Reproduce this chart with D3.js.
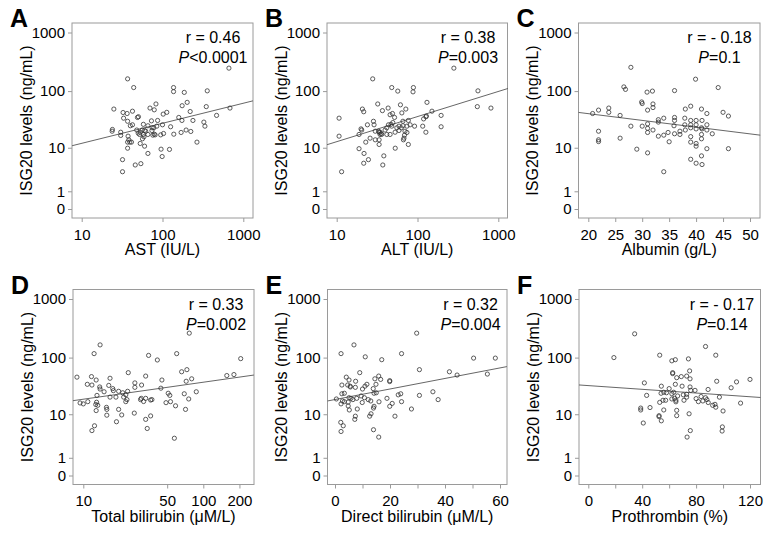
<!DOCTYPE html>
<html><head><meta charset="utf-8">
<script src="https://cdn.jsdelivr.net/npm/d3@7"></script>
<style>body{margin:0;background:#fff}</style>
</head><body><svg id="c" width="770" height="539"></svg>
<script>
const letters = ["A","B","C","D","E","F"];
const xTitles = ["AST (IU/L)","ALT (IU/L)","Albumin (g/L)","Total bilirubin (μM/L)","Direct bilirubin (μM/L)","Prothrombin (%)"];
const rLabels = ["r = 0.46","r = 0.38","r = - 0.18","r = 0.33","r = 0.32","r = - 0.17"];
const pLabels = ["<0.0001","=0.003","=0.1","=0.002","=0.004","=0.14"];
const yTitle = "ISG20 levels (ng/mL)";
const yTickValues = [0,1,10,100,1000];
const xTickValues = [[10,100,1000],[10,100,1000],[20,25,30,35,40,45,50],[10,50,100,200],[0,10,20,30,40,50,60],[0,20,40,60,80,100,120]];
const xTickLabels = [[10,100,1000],[10,100,1000],[20,25,30,35,40,45,50],[10,50,100,200],[0,20,40,60],[0,40,80,120]];

const dataA = [[37,162],[44,115],[664,247],[137,115],[137,98],[186,95],[358,101],[202,64],[175,56],[348,54],[684,51],[83,60],[25,49],[32.5,42.7],[36.5,41],[42.5,45],[70,51],[79,47.5],[113,43],[102,40],[220,44.4],[467,38],[49,35],[50.4,36],[33,34],[37,30],[40,25],[42.5,26],[73,30.5],[87,31],[58,26.5],[66,25],[74.5,23],[24,21.5],[30.4,19.2],[23.8,20],[30.4,16.8],[48,21],[53,19.2],[56,21],[60,20.6],[62,20],[74,20.6],[78,23],[85,24.6],[100,26],[126,24],[159,35],[174,31],[238,31],[325,29],[335,24.6],[196,21],[224,19.8],[170,19],[138,17.7],[103,18.2],[79,17.7],[76,17],[81,17.2],[95,17.2],[58,17.5],[50,18.5],[52,17.5],[66,17.5],[59,15.9],[56.5,14.6],[37.5,16.3],[38.3,14],[37,12.7],[39.4,12.7],[41.3,12.7],[37,9.8],[53,12],[60,10.7],[66,7.8],[96,9.4],[99,6.8],[122,9.3],[267,12.7],[32,5.9],[46,4.6],[54,4.9],[32,3.3]];
const dataB = [[27.9,162],[48,115],[282,247],[89,115],[88,97],[57,100],[560,101],[131,64],[550,54],[811,51],[10.7,34],[20.8,49],[21.6,44],[32.2,60],[43.3,51],[36.8,46],[61.5,58],[71.7,49],[64,42],[45.8,39],[49,41],[52,35],[77,31],[66,30],[28.5,30],[29,26],[24,26],[20,22],[20.4,21],[18.9,17.5],[10.7,16.3],[30,20],[33.5,19.2],[34.4,17.5],[35.5,18.2],[151,45],[129,37],[196,38],[127,36],[119,33],[92,24.6],[116,24.6],[127,19.2],[196,24],[74,24.6],[81,26],[59,24.6],[66,25],[70,20],[74,19],[69,17],[68,15],[67,14],[77,11.5],[53,9.8],[33.5,11.5],[22.9,12.7],[18.9,9.6],[21.8,7.8],[24.7,5.9],[21.6,5],[38.3,7],[37.2,4.6],[11.5,3.3],[25.9,15],[33.5,14],[30,14],[41.7,17.5],[45.8,17.5],[48,24.6],[52.8,19.2],[55.5,23],[59,20.6],[63,23],[33,20],[34.4,19.2],[36,17.5],[39.7,21],[41.7,23],[43.7,26],[47,26.5],[49.5,28.5]];
const dataC = [[27.9,255],[26.6,118],[26.9,107],[39.9,160],[44.1,115],[30.9,96],[31.9,100],[36,102],[29.9,65],[30,61],[32,60],[32,52],[31,47],[39,55],[38,49],[41,49],[45,43],[42,41],[46,37],[20.8,41],[21.9,47],[23.8,51],[23.8,43],[25.9,38],[34,34],[33,32],[33,29],[36,35],[36,31],[37.9,34],[39,31],[40,31],[41.1,31],[42,26],[37.9,26],[39,26],[40,26],[35.9,25],[39,23],[41,23],[41.1,22],[40,22],[42,21],[38,21],[37,20],[37,17.5],[36,18],[34.8,19],[34,17],[33,16.3],[43,18],[41,17.5],[41,14.6],[39,16],[39,12.7],[40,12],[40,10.7],[42,9.6],[41,7],[39,6],[40,5],[41.1,4.7],[34,3.3],[35,12.9],[31,8],[29,9.4],[21.9,20],[21.9,14],[21.9,13],[25.9,15],[27.9,24.6],[30,24.6],[31,27],[31,22.5],[31,19],[32,21],[46,9.6]];
const dataD = [[13.8,165],[12.3,117],[76.4,262],[35,109],[41.4,91],[60,117],[205,96],[8.85,46],[11.7,47],[12.8,41],[11.8,33.5],[13.7,31],[13.8,28.5],[16.7,44],[16.3,33],[23.7,55],[33.1,48],[26.9,36.5],[26.9,30.5],[30.6,33.5],[45.2,41],[44.3,29.5],[66,57],[73,62],[80,43],[157,49],[180,51],[72,39],[10.8,34.5],[13,22],[14.9,25.5],[17.6,29],[17.8,26.7],[19.7,26],[21.3,24.5],[22.6,22.5],[23.4,26],[21.7,20.5],[16.7,20.5],[18.7,20.5],[22.6,17],[23.1,18.5],[10.9,17],[9.4,16.1],[10,15.5],[12.9,16.6],[12.7,15.1],[13.2,14.6],[15.6,13.4],[15.7,12.3],[12.8,11.7],[15.7,9.6],[19.7,12.3],[20.9,9.7],[18.9,7.2],[26.6,10.5],[30,18.5],[31.8,17.1],[30.4,19.5],[33.1,19.5],[36.4,18.2],[37.3,18.5],[33.1,8],[36.4,9.3],[34.1,5.3],[48.9,16.3],[51,24],[52.6,22],[53.3,17],[58.7,14.3],[69.4,23.5],[75.6,19],[71.1,12.3],[57.4,3.3],[87.4,25.5],[11.8,4.8],[12.4,6]];
const dataE = [[6.9,165],[2.2,117],[11,103],[17,92],[24.2,117],[29.7,262],[50.4,98],[58.3,98],[30.7,62],[41.6,57],[44.4,50],[55.4,52],[9,55],[4.1,46],[5.1,41],[7.5,39],[15.9,48],[16.6,42],[14.5,43],[19.9,40],[19.9,38.5],[2.5,33.5],[4.6,33.5],[5.5,32],[5.6,31],[7.4,30.5],[10.9,32],[11.6,34.5],[13.9,29],[14.9,34.5],[15,24.5],[14.2,24],[23.9,23.5],[23,22.5],[30.7,22],[35.6,25.5],[37.5,18.5],[24.2,17],[18.9,19.5],[20.8,15.8],[19.9,14],[16,16.9],[10.7,20],[9.9,16.4],[12.1,18.5],[13,17.5],[14.2,14],[14,13],[13.1,10.2],[12.6,9.2],[8.1,12.5],[7.4,9.2],[7.2,8],[3.4,24],[2.5,23.5],[2.7,17.5],[2.2,15.5],[3.4,17],[5.1,20],[5.8,19.5],[6.5,18.5],[7.9,19.5],[4.8,16.7],[4.8,14.2],[5.2,12],[0.5,19],[2.1,7],[3,6],[2.2,4.6],[14,5],[15.9,3.5],[21.8,9.2],[27.8,12.5],[9.5,21.5],[10,28.5]];
const dataF = [[34.4,255],[19,100],[53,110],[62,88],[64.6,92],[74.3,95],[87,155],[94.6,110],[62.6,55],[62.6,53],[75.2,59],[73,48],[75.5,43],[69,47],[65.6,45],[41.6,36.5],[54.2,32],[64.6,34.5],[69.6,32],[95.3,39],[110,38],[120,42],[106,30],[88.9,28],[75.5,31],[79.2,27],[76,27],[54,24],[43.3,22],[60,29],[63.4,25],[62,23.5],[56,25],[73,23],[73,20.5],[66.3,21.5],[62,19],[65,18],[55.4,18],[53,16.5],[57.4,18],[64,19.5],[65,16.9],[71,18],[80,19.3],[81.7,17],[85,17.5],[88,18.5],[87,20],[83.7,21],[89,16.4],[92.3,14.6],[94,15.2],[94.6,13.5],[97.3,20.5],[113,16],[100,11.5],[38.9,13],[38.9,12],[45.8,13.3],[56,12],[65.6,11.8],[52.5,9.4],[52.5,9],[54.2,7.5],[40.8,6.8],[65.6,9.4],[74.8,10.2],[75.7,4.8],[73.3,3.5],[99.5,5.7],[99.3,4.7],[58,24.5],[70.5,22.5]];
const allData = [dataA,dataB,dataC,dataD,dataE,dataF];

const fitA = [[7.6,10.9],[1318,68]];
const fitB = [[7.6,11.4],[1318,111]];
const fitC = [[18.2,42.8],[51.9,17]];
const fitD = [[8.2,17.7],[264,50]];
const fitE = [[-2.7,17.5],[62.5,70]];
const fitF = [[-6.9,33.6],[127.8,20.2]];
const fits = [fitA,fitB,fitC,fitD,fitE,fitF];

// layout
const rows = [{top:23,bottom:218,y0:209,y1k:32.5},{top:289.5,bottom:484.5,y0:475.5,y1k:299}];
const frames = [
  {x0:72,x1:253,row:0,log:true,dom:[10,1000],rng:[81.7,243.3]},
  {x0:327,x1:507.5,row:0,log:true,dom:[10,1000],rng:[336.7,498.3]},
  {x0:578.5,x1:760,row:0,log:false,dom:[20,50],rng:[588.3,750]},
  {x0:73,x1:254,row:1,log:true,dom:[10,100],rng:[83.3,203.3]},
  {x0:327.5,x1:507,row:1,log:false,dom:[0,60],rng:[335,500]},
  {x0:579,x1:760.5,row:1,log:false,dom:[0,120],rng:[588.3,750]}
];

const svg = d3.select("#c");
const FONT = "Liberation Sans, Arial, Helvetica, sans-serif";
const gray = "#9a9a9a";

frames.forEach((f,i)=>{
  const r = rows[f.row];
  const x = (f.log ? d3.scaleLog() : d3.scaleLinear()).domain(f.dom).range(f.rng);
  const y = d3.scaleSymlog().constant(1).domain([0,1000]).range([r.y0, r.y1k]);
  const g = svg.append("g");

  g.append("rect").attr("x",f.x0).attr("y",r.top)
    .attr("width",f.x1-f.x0).attr("height",r.bottom-r.top)
    .attr("fill","none").attr("stroke",gray).attr("stroke-width",1);

  const ya = g.append("g").attr("transform",`translate(${f.x0},0)`)
    .call(d3.axisLeft(y).tickValues(yTickValues).tickFormat(d3.format("d")).tickSize(4).tickPadding(3));
  const labs = xTickLabels[i];
  const xa = g.append("g").attr("transform",`translate(0,${r.bottom})`)
    .call(d3.axisBottom(x).tickValues(xTickValues[i]).tickFormat(d=>labs.includes(d)?String(d):"").tickSize(4).tickPadding(7));
  [ya,xa].forEach(a=>{
    a.select(".domain").remove();
    a.selectAll(".tick line").attr("stroke",gray);
    a.selectAll("text").attr("font-family",FONT).attr("font-size",15).attr("fill","#000");
  });

  g.append("path").datum(fits[i])
    .attr("d",d3.line().x(d=>x(d[0])).y(d=>y(d[1])))
    .attr("fill","none").attr("stroke","#555").attr("stroke-width",0.9);

  g.selectAll("circle").data(allData[i]).join("circle")
    .attr("cx",d=>x(d[0])).attr("cy",d=>y(d[1])).attr("r",2.1)
    .attr("fill","none").attr("stroke","#333").attr("stroke-width",0.8);

  const cx = (f.x0+f.x1)/2;
  g.append("text").attr("x",cx).attr("y",r.bottom+37).attr("text-anchor","middle")
    .attr("font-family",FONT).attr("font-size",16).text(xTitles[i]);
  g.append("text").attr("transform",`translate(${f.x0-46},${(r.top+r.bottom)/2}) rotate(-90)`)
    .attr("text-anchor","middle").attr("dy","0.35em")
    .attr("font-family",FONT).attr("font-size",16).text(yTitle);
  g.append("text").attr("x",f.x0-62).attr("y",r.top+4).attr("font-family",FONT)
    .attr("font-weight","bold").attr("font-size",25).text(letters[i]);
  const sx = f.x0 + (f.row===0?141:143);
  g.append("text").attr("x",sx).attr("y",r.top+20).attr("text-anchor","middle")
    .attr("font-family",FONT).attr("font-size",16).text(rLabels[i]);
  const pt = g.append("text").attr("x",sx).attr("y",r.top+40).attr("text-anchor","middle")
    .attr("font-family",FONT).attr("font-size",16);
  pt.append("tspan").attr("font-style","italic").text("P");
  pt.append("tspan").text(pLabels[i]);
});
</script>
</body></html>
